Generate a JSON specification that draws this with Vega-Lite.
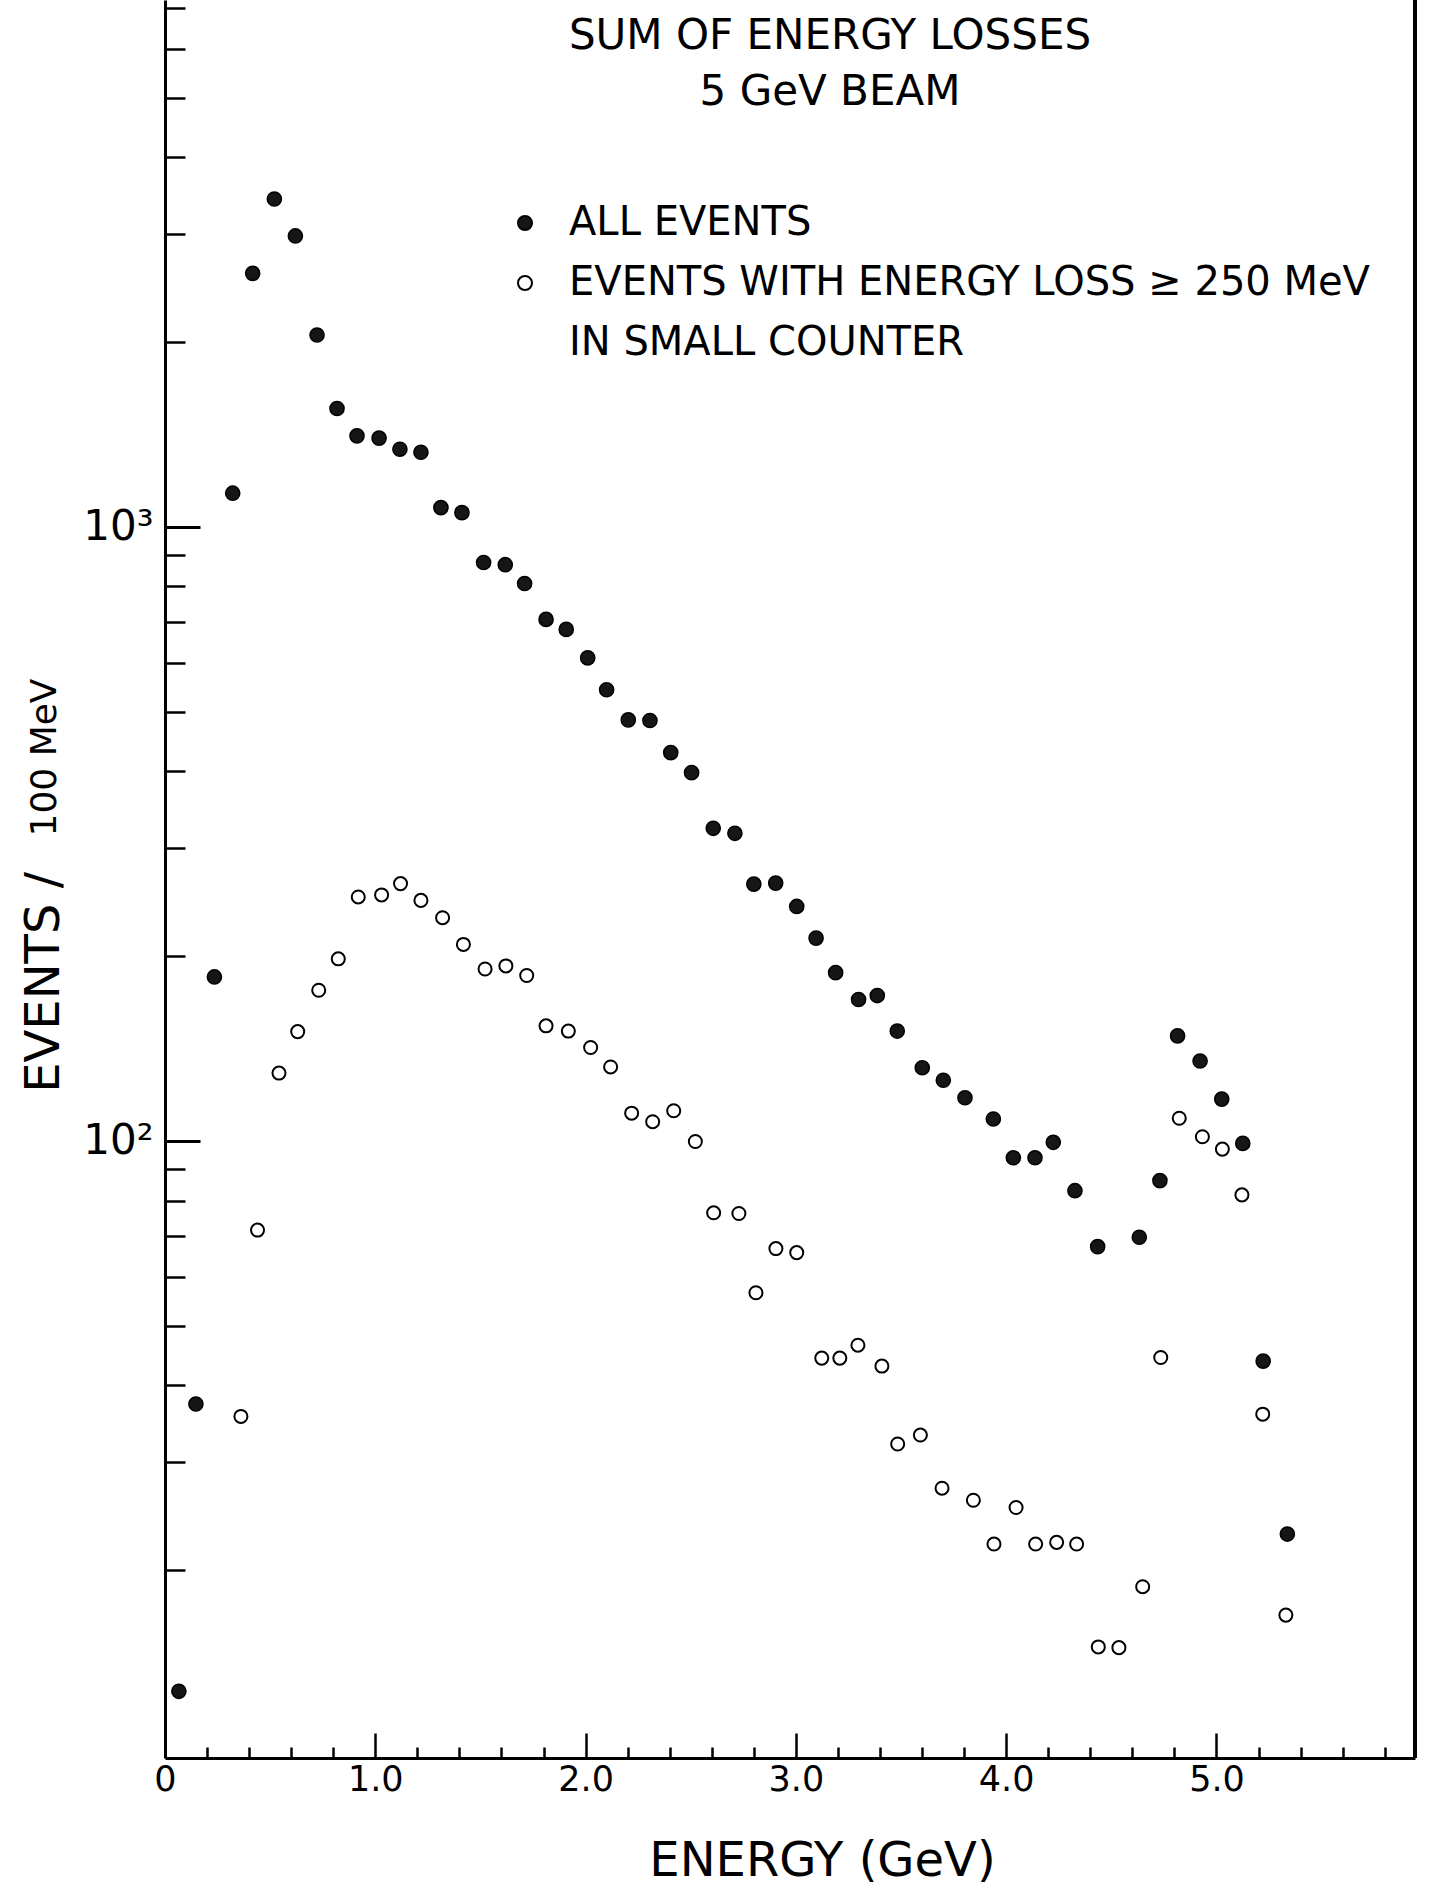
{
  "$schema": "https://vega.github.io/schema/vega-lite/v6.json",
  "width": 1250,
  "height": 1758,
  "autosize": {"type": "none"},
  "padding": {"left": 165, "top": 0, "right": 18, "bottom": 128},
  "background": "white",
  "config": {
    "view": {"stroke": null},
    "font": "DejaVu Sans",
    "axis": {"grid": false, "domainColor": "black", "tickColor": "black", "labelColor": "black", "titleColor": "black", "labelFont": "DejaVu Sans", "titleFont": "DejaVu Sans", "titleFontWeight": "normal"}
  },
  "title": {
    "text": ["SUM OF ENERGY LOSSES", "5 GeV BEAM"],
    "anchor": "start",
    "frame": "group",
    "align": "center",
    "baseline": "top",
    "offset": 0,
    "dx": 665,
    "dy": 116,
    "fontSize": 42,
    "fontWeight": "normal",
    "font": "DejaVu Sans",
    "lineHeight": 56,
    "color": "black"
  },
  "data": {
    "values": [
      {"energy": 0.066, "events": 12.7, "series": "ALL EVENTS"},
      {"energy": 0.147, "events": 37.3, "series": "ALL EVENTS"},
      {"energy": 0.235, "events": 185, "series": "ALL EVENTS"},
      {"energy": 0.322, "events": 1135, "series": "ALL EVENTS"},
      {"energy": 0.417, "events": 2588, "series": "ALL EVENTS"},
      {"energy": 0.52, "events": 3420, "series": "ALL EVENTS"},
      {"energy": 0.62, "events": 2978, "series": "ALL EVENTS"},
      {"energy": 0.723, "events": 2054, "series": "ALL EVENTS"},
      {"energy": 0.818, "events": 1559, "series": "ALL EVENTS"},
      {"energy": 0.913, "events": 1407, "series": "ALL EVENTS"},
      {"energy": 1.018, "events": 1395, "series": "ALL EVENTS"},
      {"energy": 1.117, "events": 1338, "series": "ALL EVENTS"},
      {"energy": 1.217, "events": 1323, "series": "ALL EVENTS"},
      {"energy": 1.312, "events": 1075, "series": "ALL EVENTS"},
      {"energy": 1.412, "events": 1055, "series": "ALL EVENTS"},
      {"energy": 1.515, "events": 875, "series": "ALL EVENTS"},
      {"energy": 1.618, "events": 868, "series": "ALL EVENTS"},
      {"energy": 1.71, "events": 809, "series": "ALL EVENTS"},
      {"energy": 1.812, "events": 707, "series": "ALL EVENTS"},
      {"energy": 1.908, "events": 681, "series": "ALL EVENTS"},
      {"energy": 2.01, "events": 612, "series": "ALL EVENTS"},
      {"energy": 2.1, "events": 543, "series": "ALL EVENTS"},
      {"energy": 2.203, "events": 485, "series": "ALL EVENTS"},
      {"energy": 2.306, "events": 484, "series": "ALL EVENTS"},
      {"energy": 2.405, "events": 429, "series": "ALL EVENTS"},
      {"energy": 2.504, "events": 398, "series": "ALL EVENTS"},
      {"energy": 2.607, "events": 323, "series": "ALL EVENTS"},
      {"energy": 2.71, "events": 317, "series": "ALL EVENTS"},
      {"energy": 2.8, "events": 262, "series": "ALL EVENTS"},
      {"energy": 2.904, "events": 263, "series": "ALL EVENTS"},
      {"energy": 3.004, "events": 241, "series": "ALL EVENTS"},
      {"energy": 3.096, "events": 214, "series": "ALL EVENTS"},
      {"energy": 3.189, "events": 188, "series": "ALL EVENTS"},
      {"energy": 3.298, "events": 170, "series": "ALL EVENTS"},
      {"energy": 3.387, "events": 172.5, "series": "ALL EVENTS"},
      {"energy": 3.482, "events": 151, "series": "ALL EVENTS"},
      {"energy": 3.601, "events": 131.6, "series": "ALL EVENTS"},
      {"energy": 3.701, "events": 125.6, "series": "ALL EVENTS"},
      {"energy": 3.804, "events": 117.6, "series": "ALL EVENTS"},
      {"energy": 3.939, "events": 108.6, "series": "ALL EVENTS"},
      {"energy": 4.034, "events": 93.9, "series": "ALL EVENTS"},
      {"energy": 4.137, "events": 93.9, "series": "ALL EVENTS"},
      {"energy": 4.224, "events": 99.5, "series": "ALL EVENTS"},
      {"energy": 4.327, "events": 83, "series": "ALL EVENTS"},
      {"energy": 4.435, "events": 67.3, "series": "ALL EVENTS"},
      {"energy": 4.633, "events": 69.7, "series": "ALL EVENTS"},
      {"energy": 4.731, "events": 86.2, "series": "ALL EVENTS"},
      {"energy": 4.815, "events": 148.3, "series": "ALL EVENTS"},
      {"energy": 4.922, "events": 135, "series": "ALL EVENTS"},
      {"energy": 5.025, "events": 117, "series": "ALL EVENTS"},
      {"energy": 5.125, "events": 99.1, "series": "ALL EVENTS"},
      {"energy": 5.222, "events": 43.8, "series": "ALL EVENTS"},
      {"energy": 5.337, "events": 22.9, "series": "ALL EVENTS"},
      {"energy": 0.361, "events": 35.6, "series": "EVENTS WITH ENERGY LOSS ≥ 250 MeV"},
      {"energy": 0.44, "events": 71.6, "series": "EVENTS WITH ENERGY LOSS ≥ 250 MeV"},
      {"energy": 0.542, "events": 129, "series": "EVENTS WITH ENERGY LOSS ≥ 250 MeV"},
      {"energy": 0.631, "events": 150.7, "series": "EVENTS WITH ENERGY LOSS ≥ 250 MeV"},
      {"energy": 0.731, "events": 176, "series": "EVENTS WITH ENERGY LOSS ≥ 250 MeV"},
      {"energy": 0.824, "events": 198, "series": "EVENTS WITH ENERGY LOSS ≥ 250 MeV"},
      {"energy": 0.919, "events": 249.7, "series": "EVENTS WITH ENERGY LOSS ≥ 250 MeV"},
      {"energy": 1.03, "events": 251.6, "series": "EVENTS WITH ENERGY LOSS ≥ 250 MeV"},
      {"energy": 1.12, "events": 262.5, "series": "EVENTS WITH ENERGY LOSS ≥ 250 MeV"},
      {"energy": 1.217, "events": 246.5, "series": "EVENTS WITH ENERGY LOSS ≥ 250 MeV"},
      {"energy": 1.32, "events": 231, "series": "EVENTS WITH ENERGY LOSS ≥ 250 MeV"},
      {"energy": 1.419, "events": 209, "series": "EVENTS WITH ENERGY LOSS ≥ 250 MeV"},
      {"energy": 1.522, "events": 190.6, "series": "EVENTS WITH ENERGY LOSS ≥ 250 MeV"},
      {"energy": 1.621, "events": 192.8, "series": "EVENTS WITH ENERGY LOSS ≥ 250 MeV"},
      {"energy": 1.72, "events": 186, "series": "EVENTS WITH ENERGY LOSS ≥ 250 MeV"},
      {"energy": 1.812, "events": 154, "series": "EVENTS WITH ENERGY LOSS ≥ 250 MeV"},
      {"energy": 1.918, "events": 151, "series": "EVENTS WITH ENERGY LOSS ≥ 250 MeV"},
      {"energy": 2.024, "events": 142, "series": "EVENTS WITH ENERGY LOSS ≥ 250 MeV"},
      {"energy": 2.119, "events": 132, "series": "EVENTS WITH ENERGY LOSS ≥ 250 MeV"},
      {"energy": 2.219, "events": 111, "series": "EVENTS WITH ENERGY LOSS ≥ 250 MeV"},
      {"energy": 2.319, "events": 107.5, "series": "EVENTS WITH ENERGY LOSS ≥ 250 MeV"},
      {"energy": 2.419, "events": 112, "series": "EVENTS WITH ENERGY LOSS ≥ 250 MeV"},
      {"energy": 2.522, "events": 99.8, "series": "EVENTS WITH ENERGY LOSS ≥ 250 MeV"},
      {"energy": 2.609, "events": 76.4, "series": "EVENTS WITH ENERGY LOSS ≥ 250 MeV"},
      {"energy": 2.729, "events": 76.2, "series": "EVENTS WITH ENERGY LOSS ≥ 250 MeV"},
      {"energy": 2.81, "events": 56.6, "series": "EVENTS WITH ENERGY LOSS ≥ 250 MeV"},
      {"energy": 2.905, "events": 66.8, "series": "EVENTS WITH ENERGY LOSS ≥ 250 MeV"},
      {"energy": 3.004, "events": 65.8, "series": "EVENTS WITH ENERGY LOSS ≥ 250 MeV"},
      {"energy": 3.123, "events": 44.3, "series": "EVENTS WITH ENERGY LOSS ≥ 250 MeV"},
      {"energy": 3.209, "events": 44.3, "series": "EVENTS WITH ENERGY LOSS ≥ 250 MeV"},
      {"energy": 3.295, "events": 46.5, "series": "EVENTS WITH ENERGY LOSS ≥ 250 MeV"},
      {"energy": 3.409, "events": 43.0, "series": "EVENTS WITH ENERGY LOSS ≥ 250 MeV"},
      {"energy": 3.484, "events": 32.1, "series": "EVENTS WITH ENERGY LOSS ≥ 250 MeV"},
      {"energy": 3.592, "events": 33.2, "series": "EVENTS WITH ENERGY LOSS ≥ 250 MeV"},
      {"energy": 3.695, "events": 27.2, "series": "EVENTS WITH ENERGY LOSS ≥ 250 MeV"},
      {"energy": 3.844, "events": 26.0, "series": "EVENTS WITH ENERGY LOSS ≥ 250 MeV"},
      {"energy": 3.942, "events": 22.06, "series": "EVENTS WITH ENERGY LOSS ≥ 250 MeV"},
      {"energy": 4.047, "events": 25.3, "series": "EVENTS WITH ENERGY LOSS ≥ 250 MeV"},
      {"energy": 4.14, "events": 22.06, "series": "EVENTS WITH ENERGY LOSS ≥ 250 MeV"},
      {"energy": 4.24, "events": 22.2, "series": "EVENTS WITH ENERGY LOSS ≥ 250 MeV"},
      {"energy": 4.335, "events": 22.06, "series": "EVENTS WITH ENERGY LOSS ≥ 250 MeV"},
      {"energy": 4.438, "events": 15.0, "series": "EVENTS WITH ENERGY LOSS ≥ 250 MeV"},
      {"energy": 4.536, "events": 14.96, "series": "EVENTS WITH ENERGY LOSS ≥ 250 MeV"},
      {"energy": 4.649, "events": 18.8, "series": "EVENTS WITH ENERGY LOSS ≥ 250 MeV"},
      {"energy": 4.735, "events": 44.4, "series": "EVENTS WITH ENERGY LOSS ≥ 250 MeV"},
      {"energy": 4.823, "events": 108.9, "series": "EVENTS WITH ENERGY LOSS ≥ 250 MeV"},
      {"energy": 4.933, "events": 101.6, "series": "EVENTS WITH ENERGY LOSS ≥ 250 MeV"},
      {"energy": 5.028, "events": 97, "series": "EVENTS WITH ENERGY LOSS ≥ 250 MeV"},
      {"energy": 5.121, "events": 81.7, "series": "EVENTS WITH ENERGY LOSS ≥ 250 MeV"},
      {"energy": 5.22, "events": 35.9, "series": "EVENTS WITH ENERGY LOSS ≥ 250 MeV"},
      {"energy": 5.33, "events": 16.9, "series": "EVENTS WITH ENERGY LOSS ≥ 250 MeV"}
    ]
  },
  "layer": [
    {
      "transform": [{"filter": "datum.series === 'ALL EVENTS'"}],
      "mark": {"type": "point", "shape": "circle", "filled": true, "size": 200, "strokeWidth": 1.5, "opacity": 1},
      "encoding": {
        "x": {
          "field": "energy", "type": "quantitative",
          "scale": {"domain": [0, 5.944], "nice": false, "zero": false},
          "axis": {"orient": "bottom", "values": [0, 1, 2, 3, 4, 5], "ticks": false, "domain": true, "domainWidth": 3, "labelFontSize": 35, "labelPadding": 4, "labelFlush": false, "labelOverlap": false, "labelExpr": "datum.value == 0 ? '0' : format(datum.value, '.1f')", "title": "ENERGY (GeV)", "titleFontSize": 48, "titleX": 657, "titleY": 103, "titleBaseline": "middle", "titleAlign": "center"}
        },
        "y": {
          "field": "events", "type": "quantitative",
          "scale": {"type": "log", "domain": [9.89, 7213], "nice": false},
          "axis": {"orient": "left", "values": [100, 1000], "ticks": false, "domain": true, "domainWidth": 3, "labelFontSize": 42, "labelPadding": 12, "labelExpr": "datum.value == 1000 ? '10³' : '10²'", "title": "EVENTS /", "titleFontSize": 48, "titleX": -121, "titleY": 982, "titleAngle": -90, "titleBaseline": "middle", "titleAlign": "center"}
        },
        "fill": {
          "field": "series", "type": "nominal",
          "scale": {"domain": ["ALL EVENTS", "EVENTS WITH ENERGY LOSS ≥ 250 MeV", "IN SMALL COUNTER"], "range": ["#161616", "transparent", "transparent"]},
          "legend": {"orient": "none", "legendX": 340, "legendY": 203, "title": null, "padding": 0, "labelFont": "DejaVu Sans", "labelFontSize": 40, "labelColor": "black", "labelOffset": 24, "labelLimit": 0, "rowPadding": 20, "symbolType": "circle", "symbolSize": 196, "symbolStrokeWidth": 2}
        },
        "stroke": {
          "field": "series", "type": "nominal",
          "scale": {"domain": ["ALL EVENTS", "EVENTS WITH ENERGY LOSS ≥ 250 MeV", "IN SMALL COUNTER"], "range": ["#000000", "#000000", "transparent"]},
          "legend": {"orient": "none", "legendX": 340, "legendY": 203, "title": null, "padding": 0, "labelFont": "DejaVu Sans", "labelFontSize": 40, "labelColor": "black", "labelOffset": 24, "labelLimit": 0, "rowPadding": 20, "symbolType": "circle", "symbolSize": 196, "symbolStrokeWidth": 2}
        }
      }
    },
    {
      "transform": [{"filter": "datum.series !== 'ALL EVENTS'"}],
      "mark": {"type": "point", "shape": "circle", "filled": true, "size": 170, "strokeWidth": 2, "opacity": 1},
      "encoding": {
        "x": {
          "field": "energy", "type": "quantitative",
          "axis": {"orient": "bottom", "values": [1, 2, 3, 4, 5], "tickSize": -25, "tickWidth": 2.5, "labels": false, "domain": false, "title": null}
        },
        "y": {
          "field": "events", "type": "quantitative",
          "axis": {"orient": "left", "values": [100, 1000], "tickSize": -35, "tickWidth": 3, "labels": false, "domain": false, "title": "100 MeV", "titleFontSize": 36, "titleX": -121, "titleY": 757, "titleAngle": -90, "titleBaseline": "middle", "titleAlign": "center"}
        },
        "fill": {"field": "series", "type": "nominal"},
        "stroke": {"field": "series", "type": "nominal"}
      }
    },
    {
      "mark": {"type": "rule", "color": "black", "strokeWidth": 3.5},
      "encoding": {
        "x": {
          "datum": 5.944, "type": "quantitative",
          "axis": {"orient": "bottom", "values": [0.2, 0.4, 0.6, 0.8, 1.2, 1.4, 1.6, 1.8, 2.2, 2.4, 2.6, 2.8, 3.2, 3.4, 3.6, 3.8, 4.2, 4.4, 4.6, 4.8, 5.2, 5.4, 5.6, 5.8], "tickSize": -11, "tickWidth": 2.5, "labels": false, "domain": false, "title": null}
        },
        "y": {
          "datum": 9.89, "type": "quantitative",
          "axis": {"orient": "left", "values": [20, 30, 40, 50, 60, 70, 80, 90, 200, 300, 400, 500, 600, 700, 800, 900, 2000, 3000, 4000, 5000, 6000, 7000], "tickSize": -20, "tickWidth": 2.5, "labels": false, "domain": false, "title": null}
        },
        "y2": {"datum": 7213}
      }
    }
  ],
  "resolve": {"axis": {"x": "independent", "y": "independent"}}
}
